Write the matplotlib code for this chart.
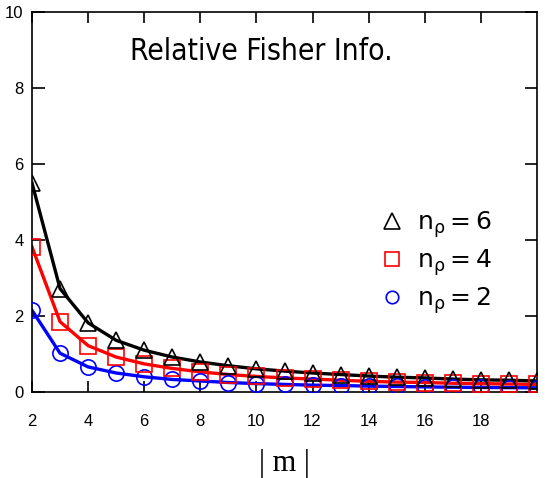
import matplotlib
matplotlib.use("Agg")
import matplotlib.pyplot as plt
from matplotlib.lines import Line2D

m_vals = list(range(2, 21))
n6 = [5.5, 2.72, 1.82, 1.36, 1.1, 0.92, 0.79, 0.69, 0.61, 0.55, 0.5, 0.46, 0.42, 0.39, 0.37, 0.34, 0.32, 0.31, 0.29]
n4 = [3.82, 1.85, 1.22, 0.92, 0.74, 0.62, 0.53, 0.46, 0.41, 0.37, 0.34, 0.31, 0.28, 0.26, 0.25, 0.23, 0.22, 0.21, 0.2]
n2 = [2.15, 1.02, 0.66, 0.5, 0.4, 0.33, 0.29, 0.25, 0.22, 0.2, 0.18, 0.17, 0.155, 0.145, 0.135, 0.125, 0.12, 0.115, 0.11]
labels = [r"$\mathregular{n_{ρ}=6}$", r"$\mathregular{n_{ρ}=4}$", r"$\mathregular{n_{ρ}=2}$"]
xticks = list(range(2, 19, 2))
yticks = list(range(0, 11, 2))

fig = plt.figure(figsize=(5.5, 4.78), dpi=100)
ax = fig.add_axes([32/550, 86/478, 505/550, 380/478])

series = [(n2, "blue", "o", 11), (n4, "red", "s", 11), (n6, "black", "^", 12)]
for vals, col, mk, ms in series:
    ax.plot(m_vals, vals, color=col, lw=2.4, zorder=2)
for vals, col, mk, ms in series:
    ax.plot(m_vals, vals, ls="none", marker=mk, ms=ms, mfc="none", mec=col, mew=1.2, zorder=3)

ax.set_xlim(2, 20)
ax.set_ylim(0, 10)
ax.set_xticks(xticks)
ax.set_yticks(yticks)
ax.tick_params(axis="x", direction="in", length=8, width=1.2, top=True, pad=16, labelsize=12)
ax.tick_params(axis="y", direction="in", length=9, width=1.2, right=True, pad=6, labelsize=12)
for lab in ax.get_xticklabels() + ax.get_yticklabels():
    lab.set_fontfamily("Liberation Sans")
for s in ax.spines.values():
    s.set_linewidth(1.2)

ax.set_xlabel("| m |", fontfamily="Liberation Serif", fontsize=22, labelpad=14)

ax.text(0.195, 0.895, "Relative Fisher Info.", transform=ax.transAxes,
        fontsize=21.5, fontfamily="DejaVu Sans", fontstretch="condensed", va="center", ha="left")

handles = [Line2D([], [], ls="none", marker="^", ms=11, mfc="none", mec="black", mew=1.2),
           Line2D([], [], ls="none", marker="s", ms=10, mfc="none", mec="red", mew=1.2),
           Line2D([], [], ls="none", marker="o", ms=9, mfc="none", mec="blue", mew=1.2)]
leg = ax.legend(handles, labels, loc="center left", bbox_to_anchor=(0.648, 0.34), frameon=False,
                prop={"family": "DejaVu Sans", "size": 18},
                handlelength=0.8, handletextpad=0.6, labelspacing=0.3)

fig.savefig("out.png", dpi=100)
